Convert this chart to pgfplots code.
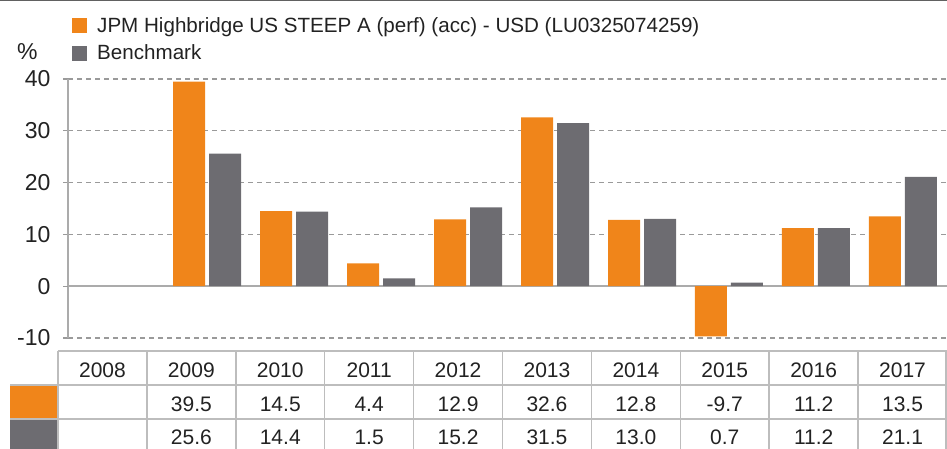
\documentclass[border=0pt]{standalone}
\usepackage{pgfplots}
\pgfplotsset{compat=1.18}
\usepackage{fontspec}
\setmainfont{Liberation Sans}
\definecolor{jpmorange}{HTML}{F0851A}
\definecolor{jpmgray}{HTML}{6D6C71}
\definecolor{gridgray}{HTML}{9A9A9A}
\definecolor{axisgray}{HTML}{ABABAB}
\definecolor{tablegray}{HTML}{BDBDBD}
\definecolor{txt}{HTML}{222222}
\newcommand{\cf}{\fontsize{21}{25}\selectfont}
\newcommand{\lf}{\fontsize{20.6}{25}\selectfont}
\newcommand{\tf}{\fontsize{23}{27}\selectfont}
\begin{document}
\begin{tikzpicture}[x=1pt,y=1pt]
\useasboundingbox (0,0) rectangle (947,-449);
\draw[line width=1.2pt, color=black!62] (0,-0.6) -- (947,-0.6);
\begin{axis}[
  at={(68pt,-338pt)}, anchor=south west,
  scale only axis, width=879pt, height=259pt,
  xmin=-0.598, xmax=9.506, ymin=-10, ymax=40,
  ybar, bar width=32pt,
  axis x line=none, axis y line*=left,
  axis line style={axisgray, line width=1.5pt},
  xtick=\empty,
  ytick={-10,10,20,30,40},
  extra y ticks={0},
  extra y tick style={grid style={solid, axisgray, line width=2pt}},
  ymajorgrids,
  grid style={gridgray, line width=1.2pt, dash pattern=on 5pt off 4pt},
  tick align=outside, major tick length=5pt,
  tick style={gridgray, line width=1.2pt},
  /pgf/number format/assume math mode=true,
  yticklabel style={font=\tf, color=txt, xshift=-9pt},
  clip=false,
]
\addplot[fill=jpmorange, draw=none, bar shift=-18pt] coordinates {
  (1,39.5) (2,14.5) (3,4.4) (4,12.9) (5,32.6) (6,12.8) (7,-9.7) (8,11.2) (9,13.5)};
\addplot[fill=jpmgray, draw=none, bar shift=18pt] coordinates {
  (1,25.6) (2,14.4) (3,1.5) (4,15.2) (5,31.5) (6,13.0) (7,0.7) (8,11.2) (9,21.1)};
\end{axis}
% legend
\fill[jpmorange] (72,-18) rectangle (87,-33);
\fill[jpmgray] (72,-46) rectangle (87,-61);
\node[anchor=base west, inner sep=0, font=\lf, text=txt] at (97,-33) {JPM Highbridge US STEEP A (perf) (acc) - USD (LU0325074259)};
\node[anchor=base west, inner sep=0, font=\lf, text=txt] at (97,-60) {Benchmark};
\node[anchor=base west, inner sep=0, font=\tf, text=txt] at (17,-60) {\%};
% table
\fill[jpmorange] (10,-385) rectangle (58,-419);
\fill[jpmgray] (10,-419) rectangle (58,-449);
\begin{scope}[tablegray, line width=1.5pt]
\draw (58,-351) -- (947,-351);
\draw (10,-385) -- (947,-385);
\draw (10,-419) -- (947,-419);
\foreach \k in {0,...,9} {\draw ({58+88.9*\k},-351) -- ({58+88.9*\k},-449);}
\draw (946.2,-351) -- (946.2,-449);
\end{scope}
\foreach \y [count=\i from 0] in {2008,2009,2010,2011,2012,2013,2014,2015,2016,2017}
  {\node[anchor=base, inner sep=0, font=\cf, text=txt] at ({58+88.9*(\i+0.5)},-377) {\y};}
\foreach \v [count=\i from 0] in {{},39.5,14.5,4.4,12.9,32.6,12.8,-9.7,11.2,13.5}
  {\node[anchor=base, inner sep=0, font=\cf, text=txt] at ({58+88.9*(\i+0.5)},-411) {\v};}
\foreach \v [count=\i from 0] in {{},25.6,14.4,1.5,15.2,31.5,13.0,0.7,11.2,21.1}
  {\node[anchor=base, inner sep=0, font=\cf, text=txt] at ({58+88.9*(\i+0.5)},-444) {\v};}
\end{tikzpicture}
\end{document}
